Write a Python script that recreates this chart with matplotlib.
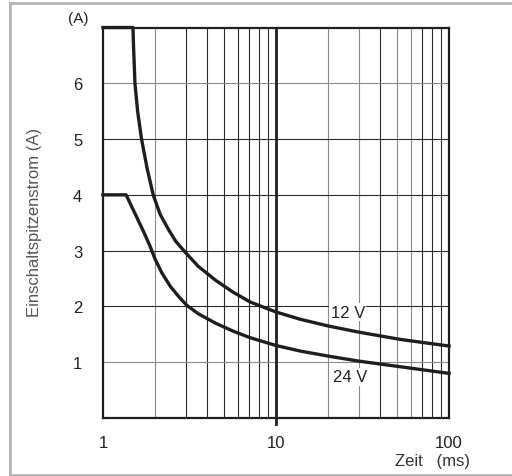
import matplotlib
matplotlib.use("Agg")
import matplotlib.pyplot as plt
from matplotlib.lines import Line2D

plt.rcParams['font.family'] = ['Liberation Sans', 'DejaVu Sans']

# Data (time in ms, inrush current in A)
t_12v = [1.0, 1.49, 1.50, 1.53, 1.585, 1.67, 1.80, 1.95, 2.14, 2.38, 2.63, 2.95, 3.55, 4.47,
         5.62, 7.08, 8.91, 10.0, 13.8, 20.0, 30.0, 52.0, 100.0]
i_12v = [7.0, 7.0, 6.7, 6.0, 5.5, 5.0, 4.47, 4.0, 3.65, 3.39, 3.17, 2.99, 2.72, 2.47,
         2.26, 2.08, 1.96, 1.90, 1.77, 1.65, 1.54, 1.41, 1.29]

t_24v = [1.0, 1.36, 1.55, 1.74, 1.87, 2.0, 2.19, 2.45, 2.75, 3.05, 3.55, 4.47, 5.62, 7.08,
         10.0, 13.8, 20.0, 30.0, 52.0, 100.0]
i_24v = [4.0, 4.0, 3.63, 3.30, 3.08, 2.85, 2.60, 2.36, 2.17, 2.02, 1.87, 1.70, 1.56, 1.44,
         1.30, 1.20, 1.11, 1.02, 0.92, 0.80]

x_ticks = [1, 10, 100]
x_ticklabels = ["1", "10", "100"]
y_ticks = [1, 2, 3, 4, 5, 6]
y_ticklabels = ["1", "2", "3", "4", "5", "6"]
v_grid = [2, 3, 4, 5, 6, 7, 8, 9, 20, 30, 40, 50, 60, 70, 80, 90]
v_grid_light = [2, 20, 30, 50, 60]
h_grid_light = [1, 6]

W, H = 512, 477
fig = plt.figure(figsize=(W / 100, H / 100), dpi=100)
L, R, T, B = 103, 449, 28.5, 419.0
ax = fig.add_axes([L / W, 1 - B / H, (R - L) / W, (B - T) / H])
ax.set_xscale('log')
ax.set_xlim(1, 100)
ax.set_ylim(0, 7)

dark = '#1e1e1e'
light = '#8a8a8a'
for xv in v_grid:
    ax.axvline(xv, color=light if xv in v_grid_light else '#2a2a2a', lw=0.8, zorder=1)
for yv in y_ticks:
    ax.axhline(yv, color=light if yv in h_grid_light else '#2a2a2a', lw=0.8, zorder=1)

ax.axvline(10, ymin=-0.016, ymax=1, color=dark, lw=2.0, zorder=2, clip_on=False)

ax.plot(t_12v, i_12v, color=dark, lw=2.4, solid_joinstyle='round', zorder=3, clip_on=False)
ax.plot(t_24v, i_24v, color=dark, lw=2.4, solid_joinstyle='round', zorder=3, clip_on=False)

for s in ax.spines.values():
    s.set_linewidth(1.6)
    s.set_color(dark)
    s.set_zorder(4)

ax.set_xticks(x_ticks)
ax.set_xticklabels(x_ticklabels)
ax.set_xticks([], minor=True)
ax.set_yticks(y_ticks)
ax.set_yticklabels(y_ticklabels)
ax.tick_params(axis='both', length=0, labelsize=12, colors='#222222')
ax.tick_params(axis='x', pad=12)
ax.tick_params(axis='y', pad=15)

ax.text(26, 1.90, "12 V", fontsize=12, color='#222222', ha='center', va='center',
        bbox=dict(facecolor='white', edgecolor='none', pad=1.0), zorder=5)
ax.text(27, 0.74, "24 V", fontsize=12, color='#222222', ha='center', va='center',
        bbox=dict(facecolor='white', edgecolor='none', pad=1.0), zorder=5)

fig.text(78 / W, 1 - 19.5 / H, "(A)", fontsize=11, color='#222222', ha='center', va='center')
fig.text(35 / W, 1 - 222 / H, "Einschaltspitzenstrom (A)", fontsize=12, color='#555555',
         rotation=90, ha='center', va='center')
fig.text(432.5 / W, 1 - 462 / H, "Zeit   (ms)", fontsize=12, color='#333333', ha='center', va='center')

frame_c = '#b4b4b4'
fig.add_artist(Line2D([10 / W, 10 / W], [1 - 4 / H, 1 - 476 / H], color=frame_c, lw=2.0, transform=fig.transFigure))
fig.add_artist(Line2D([10 / W, 1.0], [1 - 4 / H, 1 - 4 / H], color=frame_c, lw=2.0, transform=fig.transFigure))
fig.add_artist(Line2D([10 / W, 1.0], [1 - 476 / H, 1 - 476 / H], color=frame_c, lw=2.0, transform=fig.transFigure))

fig.savefig("out.png", dpi=100)
